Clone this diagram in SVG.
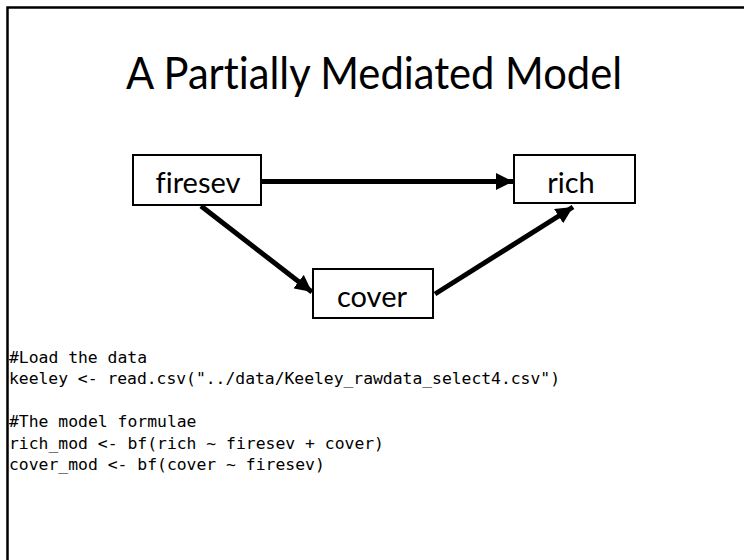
<svg xmlns="http://www.w3.org/2000/svg" width="744" height="560" viewBox="0 0 744 560">
  <defs>
    <marker id="arrow" viewBox="0 0 10 10" refX="10" refY="5" markerWidth="3.4" markerHeight="3.4" markerUnits="strokeWidth" orient="auto">
      <path d="M0,0 L10,5 L0,10 Z" fill="#000"/>
    </marker>
  </defs>
  <style>
    text { font-variant-ligatures: none; font-feature-settings: "liga" 0, "dlig" 0; }
    .frame { fill: none; stroke: #000; stroke-width: 2.5; }
    .box { fill: #fff; stroke: #000; stroke-width: 2; }
    .label { font-family: Lato, "Open Sans", "Liberation Sans", sans-serif; font-size: 29px; fill: #000; text-anchor: middle; }
    .title { font-family: Lato, "Open Sans", "Liberation Sans", sans-serif; font-size: 45px; fill: #000; }
    .edge { fill: none; stroke: #000; stroke-width: 5; marker-end: url(#arrow); }
    .code { font-family: "DejaVu Sans Mono", "Liberation Mono", monospace; font-size: 16.4px; fill: #000; white-space: pre; }
  </style>

  <rect width="744" height="560" fill="#fff"/>
  <!-- slide frame (only top and left edges fall inside the view) -->
  <path class="frame" d="M7.5,560 V7.5 H744"/>

  <text class="title" x="126" y="89" textLength="496" lengthAdjust="spacingAndGlyphs">A Partially Mediated Model</text>

  <g id="connectors">
    <line class="edge" x1="262" y1="181.5" x2="513" y2="181.5"/>
    <line class="edge" x1="201" y1="206" x2="312" y2="292"/>
    <line class="edge" x1="435" y1="294" x2="573" y2="207"/>
  </g>

  <g id="firesev">
    <rect class="box" x="133" y="155" width="128" height="50"/>
    <text class="label" x="198" y="193">firesev</text>
  </g>
  <g id="rich">
    <rect class="box" x="514" y="155" width="121" height="48"/>
    <text class="label" x="571" y="193">rich</text>
  </g>
  <g id="cover">
    <rect class="box" x="313" y="269" width="120" height="49"/>
    <text class="label" x="372" y="307">cover</text>
  </g>

  <g id="code">
    <text class="code" x="9" y="363" textLength="138" lengthAdjust="spacing">#Load the data</text>
    <text class="code" x="9" y="384" textLength="551" lengthAdjust="spacing">keeley &lt;- read.csv("../data/Keeley_rawdata_select4.csv")</text>
    <text class="code" x="9" y="427">#The model formulae</text>
    <text class="code" x="9" y="449">rich_mod &lt;- bf(rich ~ firesev + cover)</text>
    <text class="code" x="9" y="470">cover_mod &lt;- bf(cover ~ firesev)</text>
  </g>
</svg>
